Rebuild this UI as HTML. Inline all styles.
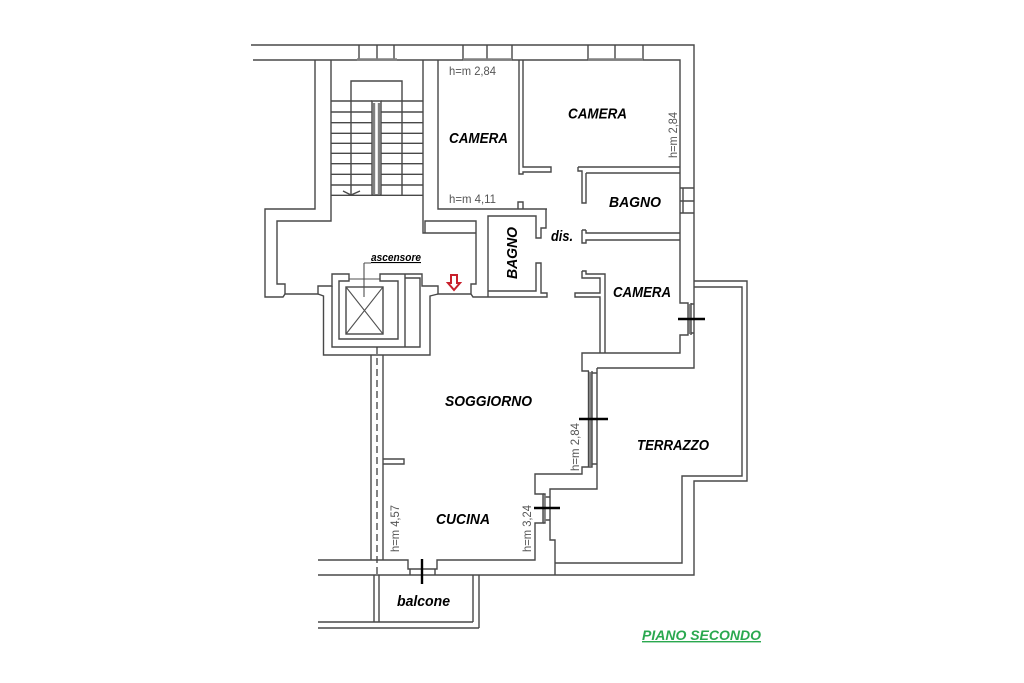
<!DOCTYPE html>
<html><head><meta charset="utf-8"><style>
html,body{margin:0;padding:0;background:#fff}
svg{display:block}
.w{fill:none;stroke:#484848;stroke-width:1.4}
.f{fill:none;stroke:#505050;stroke-width:1.1}
.g{fill:none;stroke:#808080;stroke-width:2.4}
.t{stroke:#000;stroke-width:2.4}
.l{font:italic bold 15px "Liberation Sans",sans-serif;fill:#000}
.h{font:12px "Liberation Sans",sans-serif;fill:#555}
</style></head><body>
<svg width="1024" height="683" viewBox="0 0 1024 683" xmlns="http://www.w3.org/2000/svg">
<rect width="1024" height="683" fill="#fff"/>
<g class="w">
<!-- outer top -->
<path d="M251 45H694V368H597M253 60H680V303H688V335H680V353H582V371H589"/>
<path d="M359 45V60M377 45V60M394 45V60M463 45V60M487 45V60M512 45V60M588 45V60M615 45V60M643 45V60"/>
<!-- right wall window -->
<path d="M680 188H694M680 201H694M680 213H694M683 188V213M691 303V335M691 304H694M691 333H694"/>
<!-- stair walls -->
<path d="M315 60V209H265V297H283L285 294H318V286H332V274H349V281H339V339H398V281H380V274H422V286H438V294H471"/>
<path d="M331 60V221H277V284H285V294"/>
<path d="M332 286V347H420V278H405M405 274V347"/>
<path d="M318 294L323.500 296V355H371V560M438 294L430 296V355H383V560M323.500 355H430"/>
<path d="M423 60V233H476M438 60V209H547"/>
<path d="M331 101H372M381 101H423M331 112H372M381 112H423M331 122.700H372M381 122.700H423M331 133.300H372M381 133.300H423M331 143.300H372M381 143.300H423M331 153.300H372M381 153.300H423M331 163.700H372M381 163.700H423M331 174.300H372M381 174.300H423M331 185H372M381 185H423M331 195.300H423"/>
<path d="M351 195V81H402V195"/>
<path d="M372 101H381V195H372ZM343 191L351 195L360 191"/>
<!-- hall right -->
<path d="M425 233V221H476V284H471V294L473 297H547V293H541V263H536V291H488V216H536V238H541V228H546V209M518 209V202H523V209M488 291V297"/>
<!-- lift car -->
<rect x="346" y="287" width="37" height="47"/>
<!-- camera partitions -->
<path d="M519 60V174H523V172H551V167H523V60M578 167H680M586 173H680M578 167V171H582V203H586V173"/>
<path d="M582 230V243H586V240H680M586 230H582M586 230V233H680"/>
<path d="M582 271V278H600V293H575V297H600V353M582 271H586V274H605V353"/>
<!-- glazing -->
<path d="M597 368V489H550V540H555V575M592 373H597M592 464H597M588.500 371V467M592 371V467H582V474H535V494H543V523H535V560H437V569H408V560H318"/>
<path d="M543 494H545V523H543M545 497H550M545 520H550"/>
<!-- terrace -->
<path d="M694 281H747V481H694V575H318M694 287H742V476H682V563H555"/>
<path d="M410 569V575M435 569V575"/>
<!-- balcony -->
<path d="M374 575V622M379 575V622M473 575V622M479 575V628M318 622H473M318 628H479"/>
<path d="M383 459H404V464H383"/>
</g>
<path class="f" d="M349 279H380M346 287L383 334M383 287L346 334M364 263V297M364 263H371"/>
<path class="g" d="M374 103V194M379 103V194M590.300 372V466M544.500 495V522M689.500 304V334M357 59.500H397M463 59.500H512M588 59.500H643"/>
<path d="M377 347V575" fill="none" stroke="#404040" stroke-width="1.3" stroke-dasharray="7 4"/>
<path d="M451 275H457V283H460L454 290L448 283H451Z" fill="#fff" stroke="#c8202c" stroke-width="2"/>
<path class="t" d="M678 319H705M579 419H608M534 508H560M422 559V584"/>
<text class="l" x="449" y="143" textLength="59" lengthAdjust="spacingAndGlyphs">CAMERA</text>
<text class="l" x="568" y="118.500" textLength="59" lengthAdjust="spacingAndGlyphs">CAMERA</text>
<text class="l" x="609" y="207" textLength="52" lengthAdjust="spacingAndGlyphs">BAGNO</text>
<text class="l" transform="translate(517 279) rotate(-90)" textLength="52" lengthAdjust="spacingAndGlyphs">BAGNO</text>
<text class="l" x="551" y="241" textLength="22" lengthAdjust="spacingAndGlyphs">dis.</text>
<text class="l" x="613" y="297" textLength="58" lengthAdjust="spacingAndGlyphs">CAMERA</text>
<text class="l" x="445" y="406" textLength="87" lengthAdjust="spacingAndGlyphs">SOGGIORNO</text>
<text class="l" x="637" y="450" textLength="72" lengthAdjust="spacingAndGlyphs">TERRAZZO</text>
<text class="l" x="436" y="524" textLength="54" lengthAdjust="spacingAndGlyphs">CUCINA</text>
<text class="l" x="397" y="606" textLength="53" lengthAdjust="spacingAndGlyphs">balcone</text>
<text class="l" x="371" y="261" textLength="50" lengthAdjust="spacingAndGlyphs" style="font-size:11px" text-decoration="underline">ascensore</text>
<text class="l" x="642" y="640" textLength="119" lengthAdjust="spacingAndGlyphs" style="font-size:14px;fill:#2aa84f" text-decoration="underline">PIANO SECONDO</text>
<text class="h" x="449" y="75" textLength="47" lengthAdjust="spacingAndGlyphs">h=m 2,84</text>
<text class="h" x="449" y="203" textLength="47" lengthAdjust="spacingAndGlyphs">h=m 4,11</text>
<text class="h" transform="translate(677 158) rotate(-90)" textLength="46" lengthAdjust="spacingAndGlyphs">h=m 2,84</text>
<text class="h" transform="translate(579 471) rotate(-90)" textLength="48" lengthAdjust="spacingAndGlyphs">h=m 2,84</text>
<text class="h" transform="translate(531 552) rotate(-90)" textLength="47" lengthAdjust="spacingAndGlyphs">h=m 3,24</text>
<text class="h" transform="translate(399 552) rotate(-90)" textLength="47" lengthAdjust="spacingAndGlyphs">h=m 4,57</text>
</svg>
</body></html>
